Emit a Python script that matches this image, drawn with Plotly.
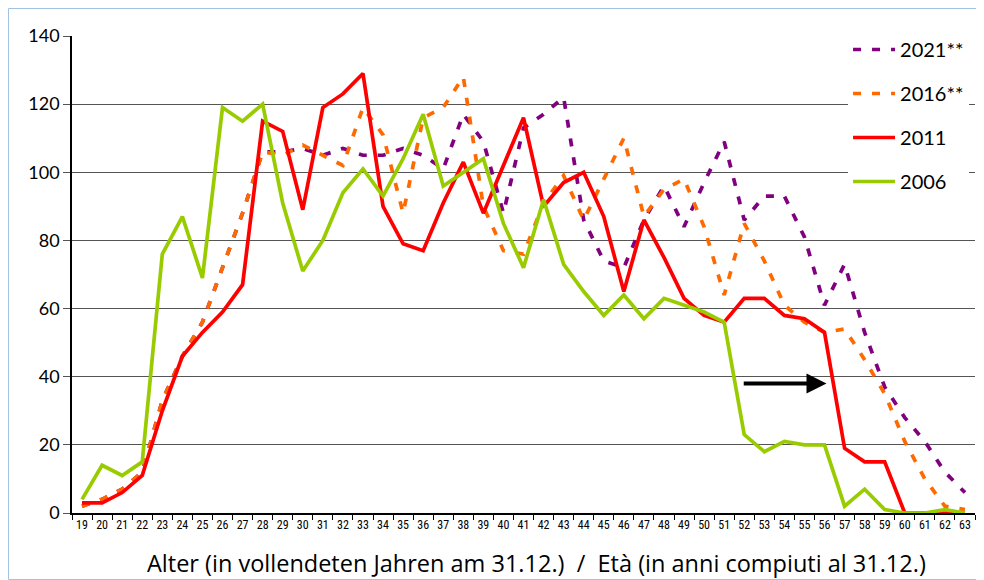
import plotly.graph_objects as go

ages = [str(a) for a in range(19, 64)]

y2021 = [2, 4, 7, 12, 33, 46, 56, 72, 88, 106, 106, 107, 105, 107, 105, 105, 107, 105, 101, 117,
         109, 88, 113, 117, 122, 86, 74, 72, 86, 96, 84, 97, 109, 86, 93, 93, 81, 61, 73, 53,
         37, 28, 21, 12, 6]
y2016 = [2, 4, 7, 12, 33, 46, 56, 72, 88, 106, 105, 108, 105, 102, 119, 111, 88, 116, 119, 128,
         90, 77, 76, 91, 99, 86, 98, 110, 87, 95, 98, 84, 64, 85, 74, 61, 56, 53, 54, 45,
         35, 21, 10, 2, 1]
y2011 = [3, 3, 6, 11, 30, 46, 53, 59, 67, 115, 112, 89, 119, 123, 129, 90, 79, 77, 91, 103,
         88, 102, 116, 90, 97, 100, 87, 65, 86, 75, 63, 58, 56, 63, 63, 58, 57, 53, 19, 15,
         15, 0, 0, 0, 0]
y2006 = [4, 14, 11, 15, 76, 87, 69, 119, 115, 120, 91, 71, 80, 94, 101, 93, 104, 117, 96, 100,
         104, 85, 72, 92, 73, 65, 58, 64, 57, 63, 61, 59, 56, 23, 18, 21, 20, 20, 2, 7,
         1, 0, 0, 1, 0]

series = [
    ("2021**", y2021, "#800080", "8px,11px"),
    ("2016**", y2016, "#FF6A00", "8px,11px"),
    ("2011", y2011, "#FF0000", "solid"),
    ("2006", y2006, "#99CC00", "solid"),
]

fig = go.Figure()
for name, ys, color, dash in series:
    fig.add_trace(go.Scatter(
        x=ages, y=ys, name=name, mode="lines", legendgroup=name,
        line=dict(color=color, width=3.7, dash=dash),
    ))

FONT = "Lato, 'Open Sans', sans-serif"
NARROW = "'Liberation Sans Narrow', 'Roboto Condensed', Lato, sans-serif"

# page body has an 8px margin: figure is 976x572 placed at (8, 8)
W, H = 976, 572
ML, MR, MT, MB = 64, 9, 28, 67
PW, PH = W - ML - MR, H - MT - MB

fig.update_layout(
    width=W, height=H,
    margin=dict(l=ML, r=MR, t=MT, b=MB),
    paper_bgcolor="white", plot_bgcolor="white",
    font=dict(family=FONT, color="black"),
    showlegend=True,
    legend=dict(
        x=0.8594, xanchor="left", y=1.0126, yanchor="top",
        bgcolor="white", font=dict(size=20, family=FONT),
        tracegroupgap=15, itemwidth=42, traceorder="grouped",
    ),
    xaxis=dict(
        type="category", tickson="boundaries", ticks="outside", ticklen=5,
        tickcolor="black", tickwidth=1, tickangle=0, automargin=False,
        showline=True, linecolor="black", linewidth=1.5,
        showgrid=False, tickfont=dict(size=12, family=NARROW),
        range=[-0.5, 44.5],
    ),
    yaxis=dict(
        range=[0, 140], tickvals=[0, 20, 40, 60, 80, 100, 120, 140],
        ticks="outside", ticklen=7, tickcolor="#555", automargin=False,
        showline=True, linecolor="black", linewidth=1.5,
        showgrid=True, gridcolor="#555", gridwidth=1,
        tickfont=dict(size=18, family=FONT), zeroline=False,
    ),
)

fig.add_annotation(
    x=37.1, y=38, ax=32.9, ay=38, xref="x", yref="y", axref="x", ayref="y",
    text="", showarrow=True, arrowhead=2, arrowsize=1, arrowwidth=4, arrowcolor="black",
)

fig.add_annotation(
    x=(536 - 72) / PW, y=(513 - 563) / PH, xref="paper", yref="paper",
    xanchor="center", yanchor="middle",
    text="Alter (in vollendeten Jahren am 31.12.)\u00a0\u00a0/\u00a0\u00a0Età (in anni compiuti al 31.12.)",
    showarrow=False, font=dict(size=23.5, family="'Open Sans', sans-serif", color="black"),
)

fig.add_shape(
    type="rect", xref="paper", yref="paper",
    x0=(-ML + 0.5) / PW, x1=(PW + MR - 0.5) / PW,
    y0=(-MB + 0.5) / PH, y1=(PH + MT - 0.5) / PH,
    line=dict(color="#9DC3E6", width=1), fillcolor="rgba(0,0,0,0)", layer="below",
)

fig.write_html("out.html")
